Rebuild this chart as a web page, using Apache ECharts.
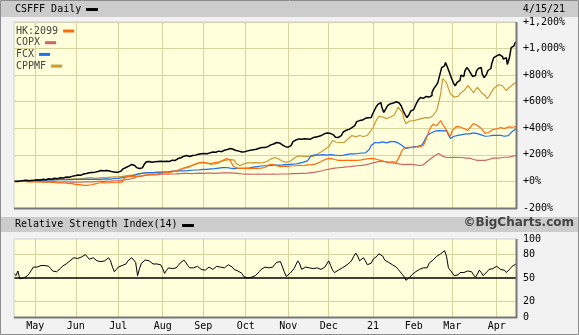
<!DOCTYPE html>
<html>
<head>
<meta charset="utf-8">
<script src="https://cdn.jsdelivr.net/npm/echarts@6/dist/echarts.min.js"></script>
<style>
  html, body { margin: 0; padding: 0; background: #f0f0f0; }
  #chart { width: 579px; height: 335px; }
</style>
</head>
<body>
<div id="chart"></div>
<script>
// Trading session range (weekdays) for the one-year daily chart
const firstSession = '2020-04-16';
const lastSession = '2021-04-15';

// axis label per calendar month (January shows the year)
const monthNames = ['21', 'Feb', 'Mar', 'Apr', 'May', 'Jun', 'Jul', 'Aug', 'Sep', 'Oct', 'Nov', 'Dec'];
const pctTicks = [-200, 0, 200, 400, 600, 800, 1000, 1200];
const rsiTicks = [0, 20, 50, 80, 100];
const compareNames = ['HK:2099', 'COPX', 'FCX', 'CPPMF'];

// CSFFF daily close, % change from first session
const csfff = [
  0,2,-1,3,5,4,8,6,10,7,9,
  10,12,9,14,16,13,18,20,17,22,24,21,26,28,25,30,33,31,36,38,42,
  45,48,46,52,56,60,63,66,68,72,70,75,78,82,80,84,83,79,75,72,70,68,
  70,78,86,95,105,115,122,128,120,112,104,98,102,115,130,148,150,145,152,148,150,155,152,
  150,148,152,150,155,160,158,165,172,178,185,190,195,192,188,195,200,198,205,202,208,
  210,212,208,215,218,222,220,225,228,224,230,235,240,245,248,242,238,232,228,225,222,224,
  225,230,235,232,238,242,245,250,255,252,256,262,268,275,282,288,293,290,285,275,262,255,
  258,270,285,300,312,320,323,318,322,326,320,318,323,330,335,332,340,348,355,360,365,
  368,360,350,340,332,331,345,360,372,385,392,398,405,420,435,450,458,462,470,475,480,478,481,
  500,530,560,580,594,560,519,545,570,585,590,594,600,590,594,570,534,505,481,500,530,
  540,556,590,615,632,625,640,650,635,647,670,700,720,744,800,857,870,895,860,820,
  780,744,720,745,760,800,790,830,857,840,815,790,797,830,850,857,810,782,800,835,850,890,932,
  945,955,962,940,920,932,880,925,1007,1020,1045
];

// HK:2099 relative performance (%)
const hk2099 = [
  0,2,-1,3,2,0,-2,1,-3,-2,-4,
  -5,-3,-6,-4,-7,-5,-8,-6,-9,-8,-7,-10,-8,-11,-9,-12,-10,-14,-12,-16,-20,
  -22,-25,-24,-28,-30,-27,-30,-28,-25,-20,-18,-15,-12,-10,-8,-10,-12,-9,-10,-12,-10,-8,
  -8,-10,-5,20,38,35,40,36,38,42,40,38,42,45,48,46,50,52,55,53,56,58,60,
  62,65,63,68,70,72,75,80,85,90,95,100,105,110,115,120,125,130,135,140,143,
  143,140,138,140,135,140,142,140,145,150,158,165,173,168,160,130,110,100,98,96,98,100,
  98,100,97,98,100,96,98,102,100,98,105,115,125,135,128,120,118,115,112,113,115,113,
  114,116,118,120,118,120,122,120,118,122,125,128,126,128,130,135,142,150,158,165,170,
  172,173,170,165,160,158,160,158,155,158,160,158,156,158,160,158,160,162,165,168,170,172,173,
  173,170,165,160,158,155,150,148,145,143,148,145,143,150,200,233,250,263,258,260,255,
  255,258,255,260,255,270,300,340,383,410,430,443,420,406,458,430,410,398,360,340,
  383,398,413,406,410,406,398,390,383,398,420,436,430,421,425,400,380,361,365,370,380,391,398,
  395,400,406,402,398,406,410,405,408,412,413
];

// COPX relative performance (%)
const copx = [
  0,1,-1,1,2,0,1,-1,0,1,0,
  0,-1,1,-2,-1,-3,-2,-1,-3,-2,-3,-4,-3,-5,-4,-3,-5,-4,-6,-5,-5,
  -5,-4,-6,-5,-4,-3,-4,-2,-3,-2,-1,-2,0,1,0,2,1,3,2,4,5,6,
  6,8,10,12,14,16,18,20,25,30,35,38,40,42,45,48,50,48,50,52,50,52,54,
  55,54,56,55,57,56,58,57,58,59,58,60,59,61,60,59,60,61,60,62,61,
  60,61,62,61,63,62,61,62,63,62,64,63,64,65,64,65,63,62,60,58,56,55,
  55,54,55,56,54,55,56,55,54,55,56,55,54,55,56,55,54,55,56,55,56,55,
  56,57,58,57,58,59,60,59,60,61,62,64,66,68,70,72,75,78,82,86,90,
  93,95,98,100,102,103,105,106,108,110,111,112,114,115,116,118,120,121,123,125,128,132,136,
  140,144,147,150,152,150,148,145,142,140,140,138,135,132,130,128,126,125,128,130,128,
  126,124,122,120,122,125,135,150,165,173,185,195,205,210,200,190,185,180,182,180,
  180,182,178,180,182,180,178,175,172,175,170,165,160,158,160,158,155,158,160,165,170,175,178,
  175,176,178,180,182,180,182,185,188,192,195
];

// FCX relative performance (%)
const fcx = [
  0,3,1,4,6,5,8,6,9,7,8,
  8,10,9,11,12,10,13,12,11,12,14,13,12,14,15,13,14,15,16,14,15,
  15,17,16,14,15,17,18,16,15,17,18,16,15,16,18,17,19,20,18,20,22,21,
  22,25,28,30,33,36,38,40,45,50,55,58,60,62,65,63,66,68,67,68,70,69,70,
  72,70,73,72,74,76,75,78,77,80,79,80,82,81,83,84,85,86,88,87,90,
  90,92,91,94,95,97,96,99,100,102,104,103,105,103,100,98,97,96,98,97,98,99,
  98,100,102,105,108,110,112,115,116,118,118,120,119,121,122,120,123,124,122,125,126,125,
  126,128,130,132,131,135,138,140,145,150,155,175,195,198,200,196,198,200,202,200,198,
  200,202,200,198,196,195,197,195,198,202,205,208,210,208,206,210,212,214,212,215,218,240,270,
  280,293,295,290,296,298,293,290,293,300,308,300,295,290,285,270,255,248,250,255,258,
  260,262,265,268,272,290,320,346,355,365,372,378,380,383,385,380,383,383,350,323,
  330,340,346,346,350,352,355,358,361,358,362,365,368,360,355,350,346,340,338,342,345,346,344,
  346,348,346,342,340,338,345,360,375,385,395
];

// CPPMF relative performance (%)
const cppmf = [
  0,1,-2,2,4,3,5,4,6,5,5,
  5,7,6,9,10,8,11,12,10,13,14,12,15,16,14,17,18,16,19,20,20,
  20,22,21,24,23,25,27,26,28,25,24,26,27,25,28,30,29,31,33,32,34,35,
  35,36,38,40,42,44,46,48,50,52,55,58,60,62,64,63,65,66,65,68,67,66,68,
  68,70,67,72,75,78,82,80,85,90,95,100,98,104,110,118,125,130,138,142,143,
  143,145,138,132,128,135,132,130,140,150,155,158,160,163,166,165,160,135,120,118,125,132,
  135,140,143,140,138,142,145,140,138,142,140,150,160,168,175,180,178,170,160,152,146,143,
  143,150,162,175,185,192,195,190,185,188,192,188,185,188,195,205,215,222,230,240,255,
  262,285,308,300,295,290,293,298,293,305,320,335,346,340,335,342,346,340,338,344,346,365,385,
  406,440,470,490,496,485,475,473,473,485,496,500,530,560,571,520,470,436,445,455,458,
  458,458,465,470,473,478,480,481,478,481,495,515,535,549,660,774,760,744,700,660,
  647,635,624,640,660,675,684,700,722,705,685,669,690,707,690,670,655,647,624,640,665,690,707,
  715,728,737,720,700,684,700,715,725,735,744
];

// CSFFF 14-day Relative Strength Index
const rsi14 = [
  56,53,59,49,50,50,51,53,56,60,64,
  63,64,65,66,67,66,65,65,62,59,57,58,59,62,65,67,68,70,72,74,76,
  76,75,75,77,79,80,78,74,75,76,74,72,70,71,71,72,74,76,72,64,58,61,
  64,65,66,66,68,72,74,76,73,70,53,62,69,71,73,74,72,70,68,66,68,69,67,
  62,56,60,63,62,62,62,63,66,69,71,73,70,66,63,61,63,64,65,63,61,
  59,60,62,64,62,61,63,65,66,64,63,63,65,67,67,64,61,60,59,59,56,52,
  51,50,50,51,52,53,55,58,61,62,64,65,63,61,64,67,70,72,71,70,58,52,
  54,56,58,62,67,72,68,61,63,64,65,63,61,62,63,63,62,61,61,64,68,
  72,66,60,57,58,60,62,63,65,66,68,70,73,78,82,78,72,74,76,72,67,65,69,
  74,76,78,81,82,78,73,72,70,68,67,66,64,61,58,55,52,47,48,51,54,
  56,58,59,61,63,63,63,63,69,71,73,75,78,79,81,83,85,78,63,60,
  58,53,51,54,57,59,57,58,59,60,58,54,51,55,60,57,53,55,58,61,63,62,64,
  65,63,61,62,60,57,59,62,65,67,68
];

// ---- build weekday session list and month-start indices ----
const sessions = [];
(function () {
  const d = new Date(firstSession + 'T00:00:00Z');
  const end = new Date(lastSession + 'T00:00:00Z');
  while (d <= end) {
    const wd = d.getUTCDay();
    if (wd !== 0 && wd !== 6) sessions.push(d.toISOString().slice(0, 10));
    d.setUTCDate(d.getUTCDate() + 1);
  }
})();
const monthStart = new Set();
sessions.forEach((s, i) => {
  if (i > 0 && s.slice(5, 7) !== sessions[i - 1].slice(5, 7)) monthStart.add(i);
});
const isMonthStart = (i) => monthStart.has(i);
const monthLabel = (v) => monthNames[Number(v.slice(5, 7)) - 1];

// ---- look ----
const W = 579, H = 335;
const MONO = 'DejaVu Sans Mono';
const plotBg = '#ffffdc';
const gridColor = '#d8d49e';
const topGrid = { left: 14, top: 22, width: 502, height: 186 };
const rsiGrid = { left: 14, top: 239, width: 502, height: 78 };
const compareColors = { 'HK:2099': '#ff6a0d', 'COPX': '#cc6666', 'FCX': '#1c6ff0', 'CPPMF': '#cc9933' };

const pctFmt = (v) => {
  if (!pctTicks.includes(v)) return '';
  const s = Math.abs(v).toLocaleString('en-US');
  return (v < 0 ? '-' : '+') + s + '%';
};

function frame(g) {
  // bevelled plot border: light top/left, dark bottom/right
  const x0 = g.left, y0 = g.top, x1 = g.left + g.width, y1 = g.top + g.height;
  return [
    { type: 'line', shape: { x1: x0, y1: y0, x2: x1, y2: y0 }, style: { stroke: '#d0d0d0', lineWidth: 1 }, z: 50 },
    { type: 'line', shape: { x1: x0, y1: y0, x2: x0, y2: y1 }, style: { stroke: '#d0d0d0', lineWidth: 1 }, z: 50 },
    { type: 'line', shape: { x1: x0, y1: y1 + 0.5, x2: x1 + 1, y2: y1 + 0.5 }, style: { stroke: '#777', lineWidth: 2 }, z: 50 },
    { type: 'line', shape: { x1: x1 + 0.5, y1: y0, x2: x1 + 0.5, y2: y1 + 1 }, style: { stroke: '#777', lineWidth: 2 }, z: 50 }
  ];
}

const chart = echarts.init(document.getElementById('chart'), null, { renderer: 'canvas' });

const lineSeries = (name, data, z) => ({
  name, type: 'line', data, xAxisIndex: 0, yAxisIndex: 0,
  showSymbol: false, symbol: 'none', z,
  lineStyle: { color: compareColors[name], width: 1.2 }, itemStyle: { color: compareColors[name] },
  emphasis: { disabled: true }
});

// one legend block per comparison symbol: name first, swatch after
const legends = compareNames.map((name, k) => ({
  data: [name], orient: 'horizontal', left: 16, top: 25 + k * 11.7, align: 'right',
  icon: 'rect', itemWidth: 11, itemHeight: 3, padding: 0, selectedMode: false,
  textStyle: { fontFamily: MONO, fontSize: 10, color: '#444', lineHeight: 12 }
}));

chart.setOption({
  animation: false,
  backgroundColor: '#f2f2f2',
  textStyle: { fontFamily: MONO },
  grid: [
    Object.assign({ show: true, backgroundColor: plotBg, borderWidth: 0 }, topGrid),
    Object.assign({ show: true, backgroundColor: plotBg, borderWidth: 0 }, rsiGrid)
  ],
  legend: legends,
  xAxis: [0, 1].map((gi) => ({
    type: 'category', gridIndex: gi, data: sessions, boundaryGap: false,
    axisLine: { show: false }, axisTick: { show: false },
    axisLabel: gi === 1 ? {
      show: true, interval: isMonthStart, formatter: monthLabel,
      fontFamily: MONO, fontSize: 10, color: '#000', margin: 4
    } : { show: false },
    splitLine: { show: true, interval: isMonthStart, lineStyle: { color: gridColor, width: 1 } }
  })),
  yAxis: [
    {
      type: 'value', gridIndex: 0, position: 'right', min: -200, max: 1200, interval: 200,
      axisLine: { show: false }, axisTick: { show: false },
      axisLabel: { formatter: pctFmt, fontFamily: MONO, fontSize: 10, color: '#000', margin: 7 },
      splitLine: { lineStyle: { color: gridColor, width: 1 } }
    },
    {
      type: 'value', gridIndex: 1, position: 'right', min: 0, max: 100, interval: 10,
      axisLine: { show: false }, axisTick: { show: false },
      axisLabel: { formatter: (v) => (rsiTicks.includes(v) ? String(v) : ''), fontFamily: MONO, fontSize: 10, color: '#000', margin: 7 },
      splitLine: { show: false }
    }
  ],
  series: [
    lineSeries('COPX', copx, 3),
    lineSeries('CPPMF', cppmf, 4),
    lineSeries('FCX', fcx, 5),
    lineSeries('HK:2099', hk2099, 6),
    {
      name: 'CSFFF', type: 'line', data: csfff, xAxisIndex: 0, yAxisIndex: 0,
      showSymbol: false, symbol: 'none', step: 'middle', z: 8,
      lineStyle: { color: '#000', width: 1.5 }, emphasis: { disabled: true }
    },
    {
      name: 'RSI', type: 'line', data: rsi14, xAxisIndex: 1, yAxisIndex: 1,
      showSymbol: false, symbol: 'none', z: 8,
      lineStyle: { color: '#000', width: 1 }, emphasis: { disabled: true },
      markLine: {
        silent: true, symbol: 'none', label: { show: false }, animation: false,
        data: [
          { yAxis: 20, lineStyle: { color: gridColor, type: 'solid', width: 1 } },
          { yAxis: 80, lineStyle: { color: gridColor, type: 'solid', width: 1 } },
          { yAxis: 50, lineStyle: { color: '#000', type: 'solid', width: 1.5 } }
        ]
      }
    }
  ],
  graphic: [
    // outer frame and section header bands
    { type: 'rect', shape: { x: 0.5, y: 0.5, width: W - 1, height: H - 1 }, style: { fill: 'none', stroke: '#8c8c8c', lineWidth: 1 }, z: -10 },
    { type: 'rect', shape: { x: 1, y: 1, width: W - 2, height: 16 }, style: { fill: '#cccccc' }, z: -5 },
    { type: 'rect', shape: { x: 1, y: 217, width: W - 2, height: 15 }, style: { fill: '#cccccc' }, z: -5 },
    { type: 'text', left: 15, top: 4, style: { text: 'CSFFF Daily', font: '10px ' + MONO, fill: '#000' } },
    { type: 'rect', shape: { x: 86, y: 8, width: 12, height: 3 }, style: { fill: '#000' } },
    { type: 'text', right: 14, top: 4, style: { text: '4/15/21', font: '10px ' + MONO, fill: '#000' } },
    { type: 'text', left: 15, top: 219, style: { text: 'Relative Strength Index(14)', font: '10px ' + MONO, fill: '#000' } },
    { type: 'rect', shape: { x: 182, y: 224, width: 12, height: 3 }, style: { fill: '#000' } },
    { type: 'text', right: 5, top: 217, style: { text: '\u00A9BigCharts.com', font: 'bold 12px "DejaVu Sans"', fill: '#444' } }
  ].concat(frame(topGrid), frame(rsiGrid))
});
</script>
</body>
</html>
